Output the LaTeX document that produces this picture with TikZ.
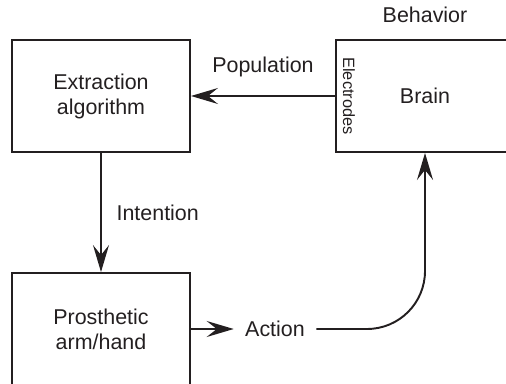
\documentclass[tikz,border=0pt]{standalone}
\usepackage{fontspec}
\setmainfont{Liberation Sans}
\usepackage{tikz}
\usetikzlibrary{arrows.meta}
\tikzset{>={Stealth[length=5.4mm,width=3.2mm,inset=2mm]}}
\definecolor{ink}{RGB}{35,31,32}

\begin{document}
\begin{tikzpicture}[x=0.02cm, y=-0.02cm, line width=1.1pt, draw=ink, text=ink,
    font=\fontsize{12.2}{14.2}\selectfont,
    block/.style={draw=ink, line width=1.1pt, minimum width=3.56cm, minimum height=2.24cm, align=center}]
    \clip (0,0) rectangle (506,384);

    \node[block] (extract) at (101,96) {Extraction\\algorithm};
    \node[block] (brain) at (425,96) {Brain};
    \node[block] (prosth) at (101,329) {Prosthetic\\arm/hand};
    \node (behavior) at (425,15) {Behavior};
    \node[rotate=-90, font=\fontsize{9.3}{10}\selectfont] (electrodes) at (349,96) {Electrodes};
    \node[inner sep=6pt] (action) at (275,329) {Action};

    \draw[->] (brain.west) -- node [midway,above=7pt] {Population} (extract.east);
    \draw[->] (extract.south) -- node [midway,right=5pt] {Intention} (prosth.north);
    \draw[->] (prosth.east) -- (action.west);
    \draw[->, rounded corners=1.16cm] (action.east) -| (brain.south);
\end{tikzpicture}
\end{document}
